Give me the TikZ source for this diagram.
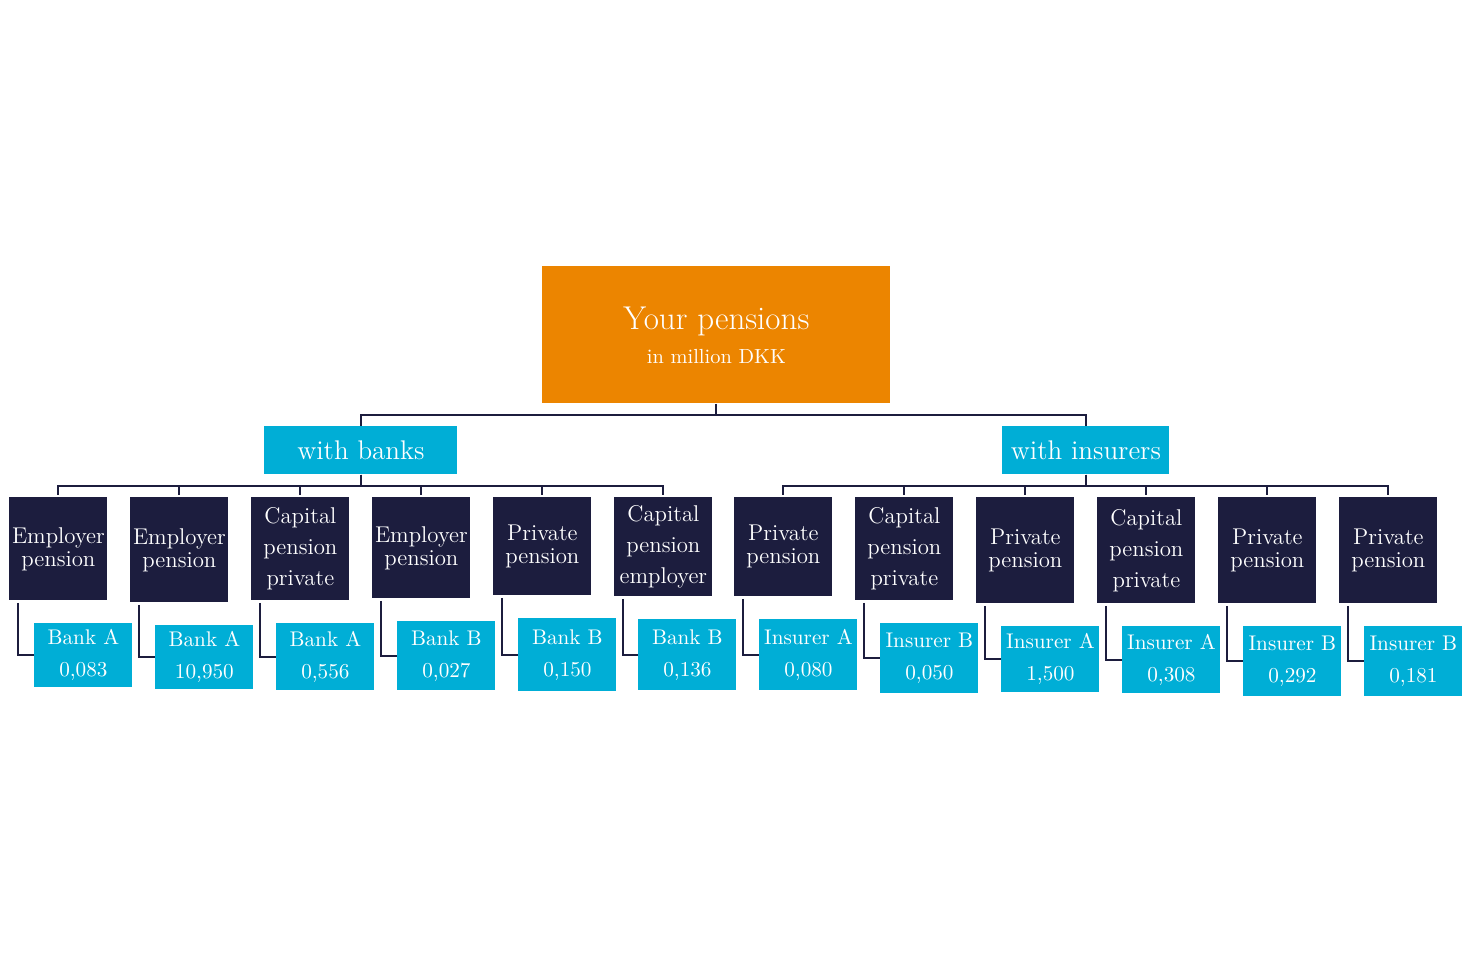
\documentclass[tikz,border=0pt]{standalone}
\usetikzlibrary{calc}
\definecolor{navy}{HTML}{1C1D3E}
\definecolor{cyanbox}{HTML}{00AED6}
\definecolor{orangebox}{HTML}{EC8500}
\begin{document}
\begin{tikzpicture}[x=0.5pt,y=-0.5pt,
  box/.style={inner sep=0pt, anchor=north west, align=center, text=white},
  topbox/.style={box, fill=orangebox, minimum width=174pt, minimum height=68.5pt},
  groupbox/.style={box, fill=cyanbox, minimum height=24pt, font=\fontsize{13.5}{15}\selectfont},
  darkbox/.style={box, fill=navy, minimum width=49pt, font=\fontsize{11.4}{11.5}\selectfont},
  darkthree/.style={darkbox, font=\fontsize{11.4}{15.5}\selectfont},
  valbox/.style={box, fill=cyanbox, minimum width=49pt, font=\fontsize{10.6}{16}\selectfont},
  link/.style={draw=navy, line width=1pt},
]
\useasboundingbox (0,0) rectangle (1468,962);

\node[topbox] (top) at (542,266) {{\fontsize{16.5}{18}\selectfont Your pensions}\\[5pt]{\fontsize{10.2}{12}\selectfont in million DKK}};

\node[groupbox, minimum width=96.5pt] (banks) at (264,426) {with banks};
\node[groupbox, minimum width=83.5pt] (ins) at (1002,426) {with insurers};

% dark boxes
\node[darkbox, minimum height=51.5pt] (d1) at (9,497) {Employer\\pension};
\node[darkbox, minimum height=52.5pt] (d2) at (130,497) {Employer\\pension};
\node[darkthree, minimum height=51.5pt] (d3) at (251,497) {Capital\\pension\\private};
\node[darkbox, minimum height=50.5pt] (d4) at (372,497) {Employer\\pension};
\node[darkbox, minimum height=49pt] (d5) at (493,497) {Private\\pension};
\node[darkthree, minimum height=49.5pt] (d6) at (614,497) {Capital\\pension\\employer};
\node[darkbox, minimum height=49.5pt] (d7) at (734,497) {Private\\pension};
\node[darkthree, minimum height=51.5pt] (d8) at (855,497) {Capital\\pension\\private};
\node[darkbox, minimum height=53pt] (d9) at (976,497) {Private\\pension};
\node[darkthree, minimum height=53pt] (d10) at (1097,497) {Capital\\pension\\private};
\node[darkbox, minimum height=53pt] (d11) at (1218,497) {Private\\pension};
\node[darkbox, minimum height=53pt] (d12) at (1339,497) {Private\\pension};

% value boxes
\node[valbox, minimum height=32pt] (c1) at (34,623) {Bank A\\0,083};
\node[valbox, minimum height=32pt] (c2) at (155,625) {Bank A\\10,950};
\node[valbox, minimum height=33.5pt] (c3) at (276,623) {Bank A\\0,556};
\node[valbox, minimum height=34.5pt] (c4) at (397,621) {Bank B\\0,027};
\node[valbox, minimum height=36.5pt] (c5) at (518,618) {Bank B\\0,150};
\node[valbox, minimum height=35.5pt] (c6) at (638,619) {Bank B\\0,136};
\node[valbox, minimum height=35.5pt] (c7) at (759,619) {Insurer A\\0,080};
\node[valbox, minimum height=35pt] (c8) at (880,623) {Insurer B\\0,050};
\node[valbox, minimum height=33pt] (c9) at (1001,626) {Insurer A\\1,500};
\node[valbox, minimum height=33.5pt] (c10) at (1122,626) {Insurer A\\0,308};
\node[valbox, minimum height=35pt] (c11) at (1243,626) {Insurer B\\0,292};
\node[valbox, minimum height=35pt] (c12) at (1364,626) {Insurer B\\0,181};

% tree links
\draw[link] (top.south) -- ++(0,11) -| (banks.north);
\draw[link] (top.south) -- ++(0,11) -| (ins.north);
\foreach \i in {1,...,6}{
  \draw[link] (banks.south) -- ++(0,11) -| ($(d\i.north)+(0,-2)$);
}
\foreach \i in {7,...,12}{
  \draw[link] (ins.south) -- ++(0,11) -| ($(d\i.north)+(0,-2)$);
}
\foreach \i in {1,...,12}{
  \draw[link] ($(d\i.south west)+(8.5,2)$) |- (c\i.west);
}
\end{tikzpicture}
\end{document}
